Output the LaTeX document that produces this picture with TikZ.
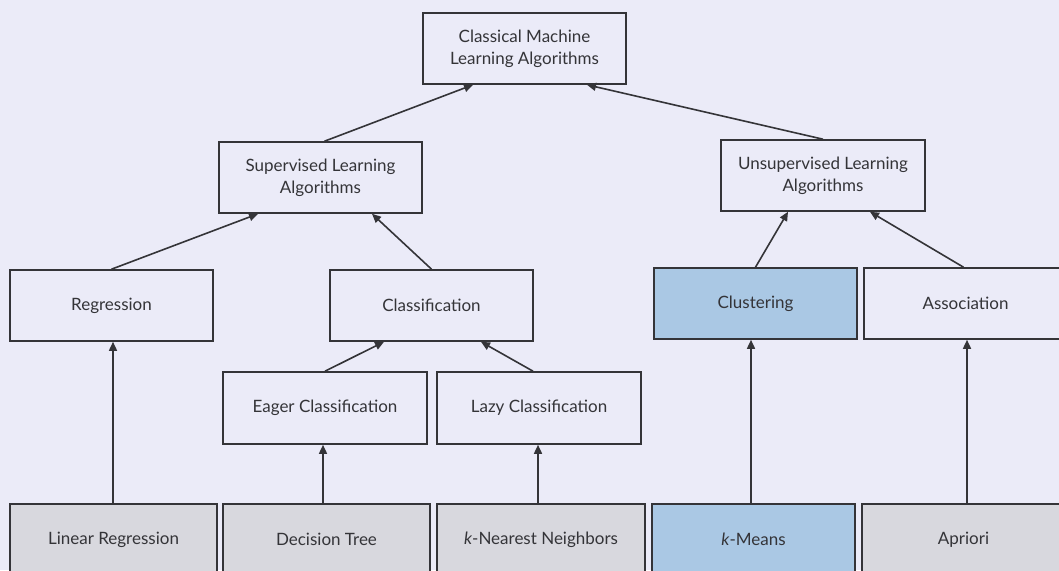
\documentclass[tikz,border=0pt]{standalone}
\usepackage{fontspec}
\setmainfont{Lato}
\usetikzlibrary{arrows.meta}
\definecolor{bg}{RGB}{235,235,248}
\definecolor{leafgray}{RGB}{216,216,222}
\definecolor{leafblue}{RGB}{170,200,228}
\definecolor{ink}{RGB}{52,52,56}
\tikzset{
  box/.style={draw=ink, line width=1.6pt, text=ink, minimum width=203pt, minimum height=71pt,
    inner sep=0pt, align=center, font=\fontsize{17}{22}\selectfont},
  leaf/.style={box, fill=leafgray},
  hilite/.style={box, fill=leafblue},
  link/.style={draw=ink, line width=1.6pt, -{Triangle[length=9pt,width=8pt]}}
}
\begin{document}
\begin{tikzpicture}[x=1pt,y=-1pt]
\fill[bg] (0,0) rectangle (1059,570);
\useasboundingbox (0,0) rectangle (1059,570);
\clip (0,0) rectangle (1059,570);

% root
\node[box] (root) at (524.5,48.5) {Classical Machine\\Learning Algorithms};

% second level
\node[box] (sup) at (320.5,177.5) {Supervised Learning\\Algorithms};
\node[box, minimum width=204pt] (uns) at (823,175.5) {Unsupervised Learning\\Algorithms};

% third level
\node[box] (reg) at (111.5,305.5) {Regression};
\node[box] (cla) at (431.5,305.5) {Classification};
\node[hilite] (clu) at (755.5,303.5) {Clustering};
\node[box] (ass) at (965.5,303.5) {Association};

% classification kinds
\node[box, minimum width=204pt, minimum height=72pt] (eag) at (325,408) {Eager Classification};
\node[box, minimum width=204pt, minimum height=72pt] (laz) at (539,408) {Lazy Classification};

% concrete algorithms
\node[leaf, minimum width=207pt] (lr) at (113.5,539.5) {Linear Regression};
\node[leaf, minimum width=207pt] (dt) at (326.5,539.5) {Decision Tree};
\node[leaf, minimum width=208pt] (knn) at (541,539.5) {\textit{k}-Nearest Neighbors};
\node[hilite] (km) at (753.5,539.5) {\textit{k}-Means};
\node[leaf] (ap) at (963.5,539.5) {Apriori};

% links to the root
\draw[link] ([xshift=4pt]sup.north) -- ([xshift=-51.5pt]root.south);
\draw[link] (uns.north) -- ([xshift=62.5pt]root.south);

% links to the second level
\draw[link] (reg.north) -- ([xshift=-62.5pt]sup.south);
\draw[link] (cla.north) -- ([xshift=51.5pt]sup.south);
\draw[link] (clu.north) -- ([xshift=-35pt]uns.south);
\draw[link] ([xshift=-2pt]ass.north) -- ([xshift=47pt]uns.south);

% links to classification
\draw[link] (eag.north) -- ([xshift=-47.5pt]cla.south);
\draw[link] ([xshift=-6pt]laz.north) -- ([xshift=49.5pt]cla.south);

% vertical links from the algorithms
\draw[link] ([xshift=-0.5pt]lr.north) -- ([xshift=-0.5pt]lr.north |- reg.south);
\draw[link] ([xshift=-3.5pt]dt.north) -- ([xshift=-3.5pt]dt.north |- eag.south);
\draw[link] ([xshift=-3pt]knn.north) -- ([xshift=-3pt]knn.north |- laz.south);
\draw[link] ([xshift=-2.5pt]km.north) -- ([xshift=-2.5pt]km.north |- clu.south);
\draw[link] ([xshift=3.5pt]ap.north) -- ([xshift=3.5pt]ap.north |- ass.south);
\end{tikzpicture}
\end{document}
